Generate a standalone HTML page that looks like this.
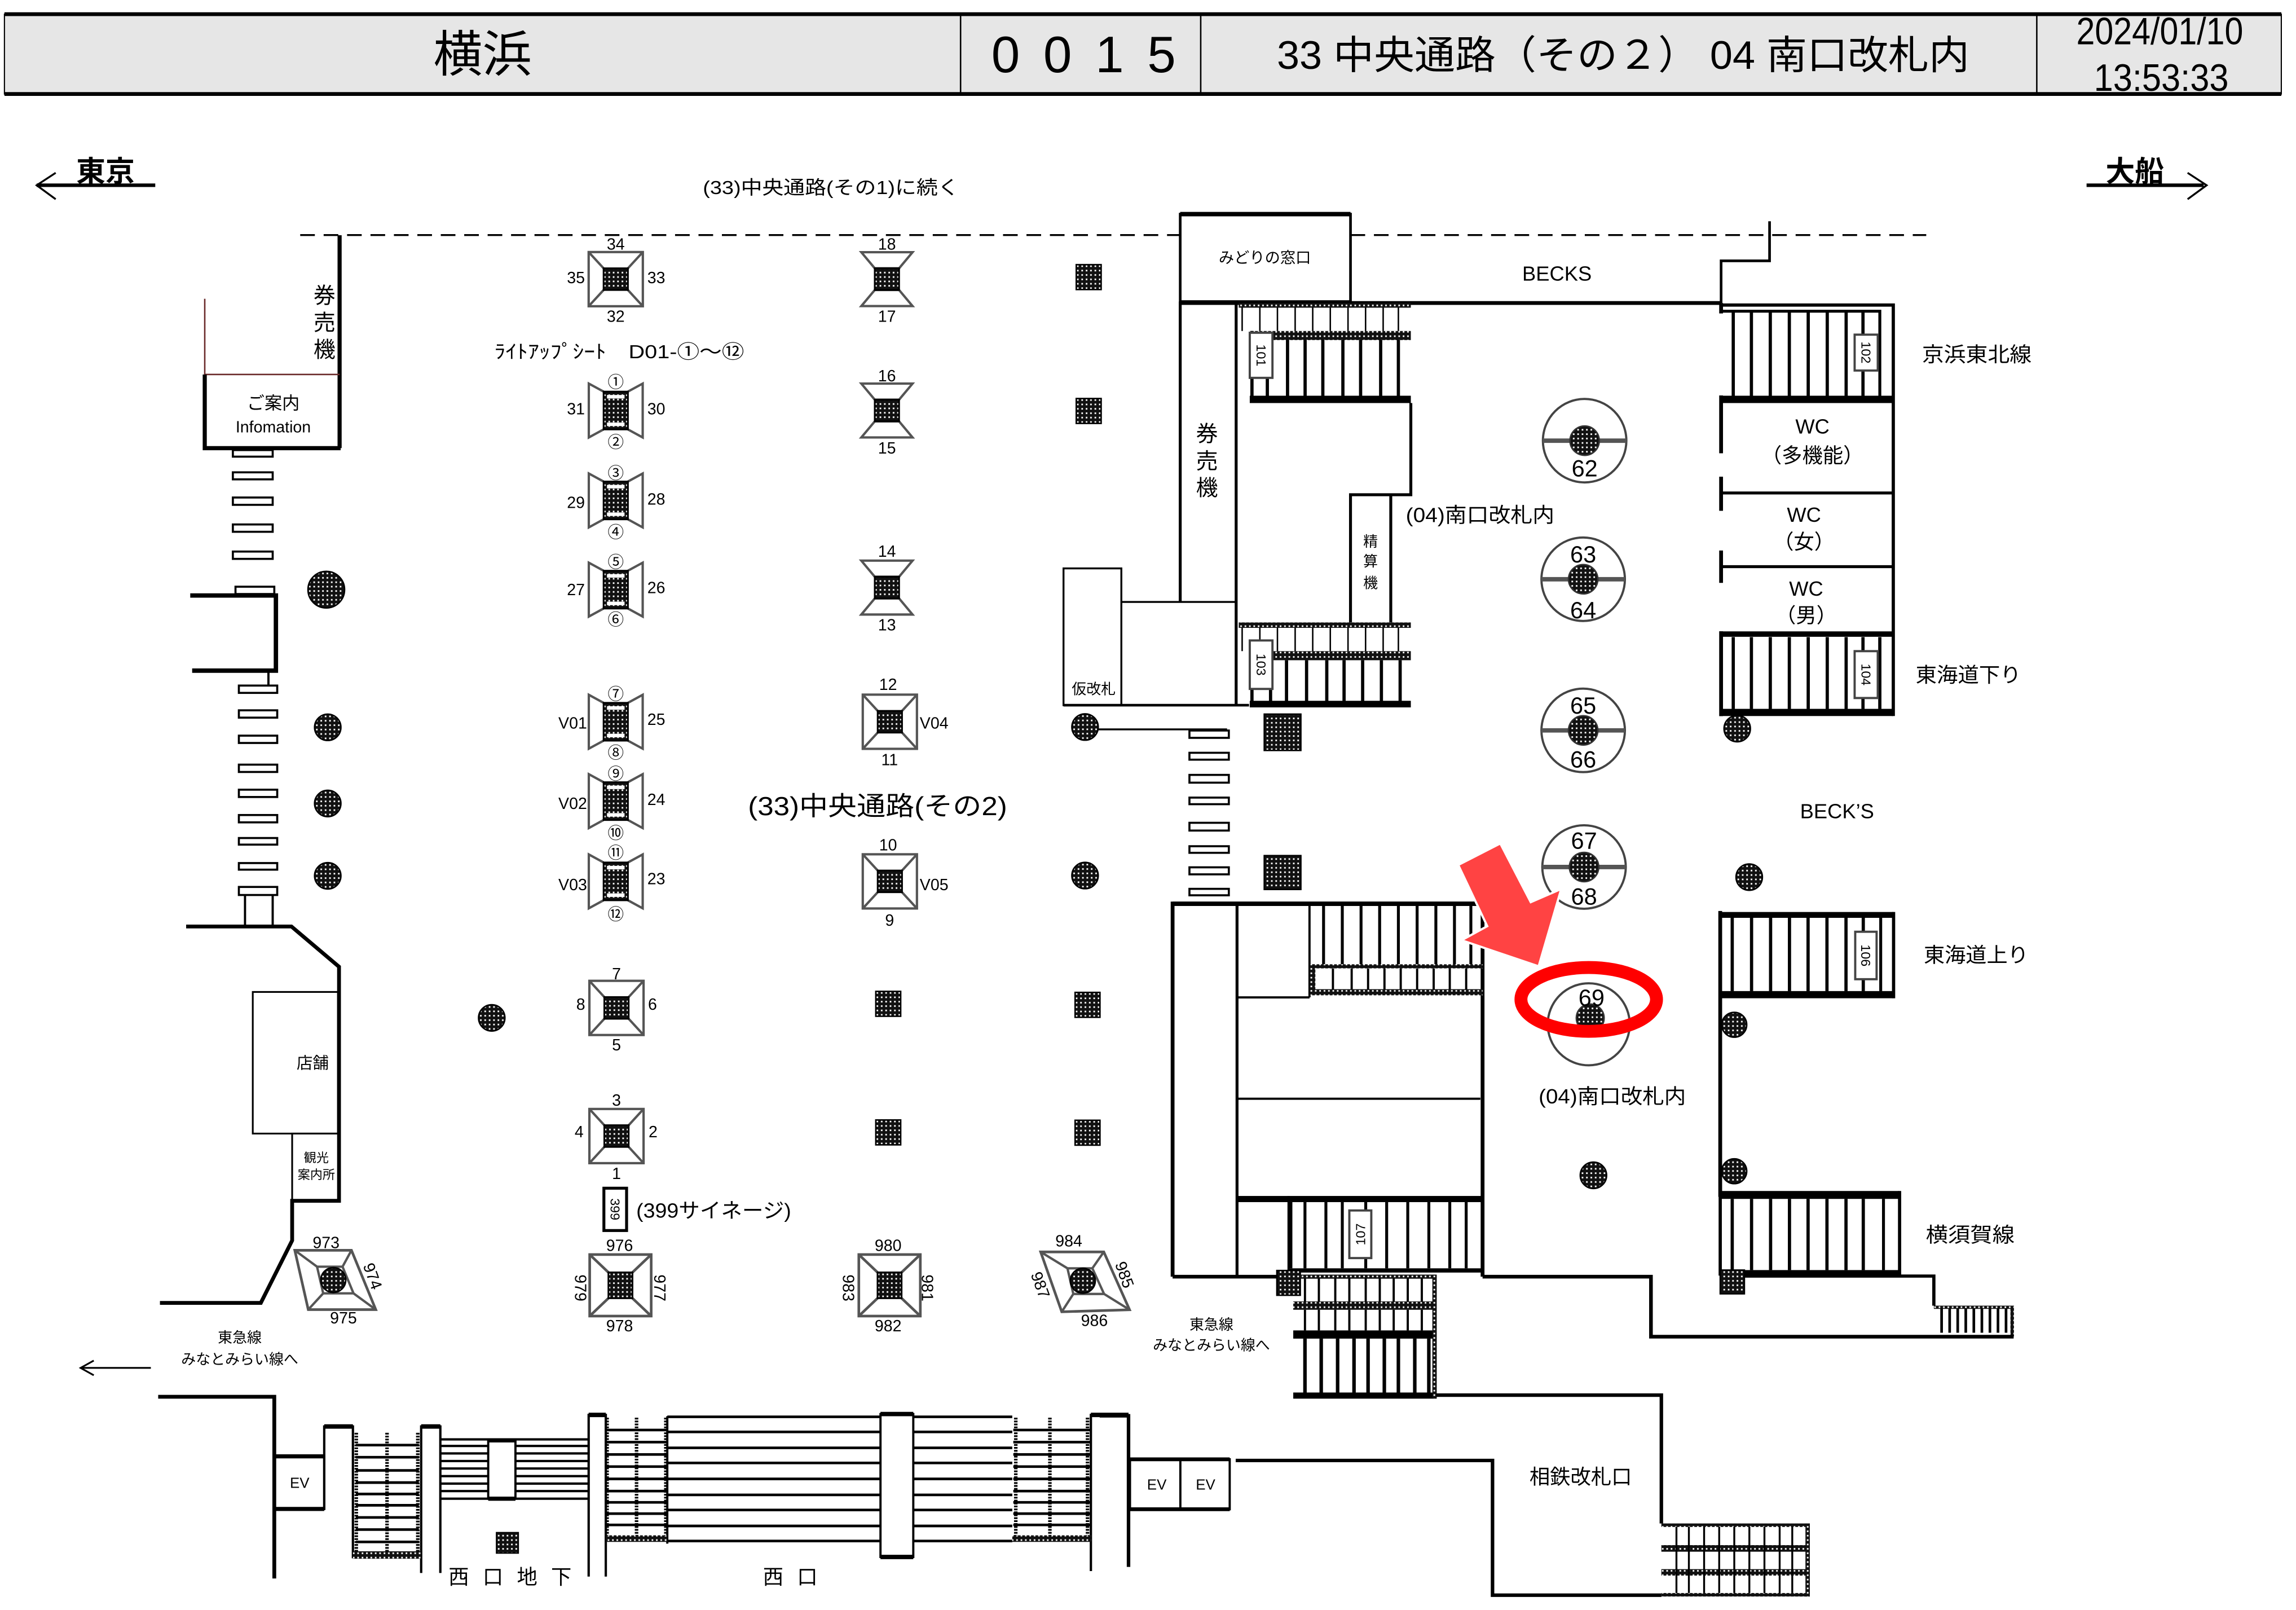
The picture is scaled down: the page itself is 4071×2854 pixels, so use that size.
<!DOCTYPE html>
<html><head><meta charset="utf-8"><title>横浜 0015</title>
<style>
html,body{margin:0;padding:0;background:#fff;width:4071px;height:2854px;overflow:hidden}
svg{display:block}
text{font-family:"Liberation Sans","Noto Sans CJK JP",sans-serif;fill:#000}
.s{font-size:11px;text-anchor:middle}
.t{font-size:9px;text-anchor:middle}
.m{font-size:14px;text-anchor:middle}
.r{font-size:16px;text-anchor:middle}
</style></head><body>
<svg xmlns="http://www.w3.org/2000/svg" width="4071" height="2854" viewBox="0 0 1568 1099.3">
<defs>
<pattern id="h" width="3" height="3" patternUnits="userSpaceOnUse"><rect width="3" height="3" fill="#111"/><rect x="1" y="1" width="1.1" height="1.1" fill="#fff"/></pattern>
<g id="kS">
<rect x="-18.5" y="-18.5" width="37" height="37" fill="#fff" stroke="#555" stroke-width="1.6"/>
<path d="M-18.5-18.5L-8.3-7.4M18.5-18.5L8.3-7.4M-18.5 18.5L-8.3 7.4M18.5 18.5L8.3 7.4" stroke="#555" stroke-width="1.6"/>
<rect x="-8.3" y="-7.4" width="16.6" height="14.8" fill="url(#h)" stroke="#000" stroke-width="1.2"/>
</g>
<g id="kL">
<rect x="-21" y="-21" width="42" height="42" fill="#fff" stroke="#555" stroke-width="1.8"/>
<path d="M-21-21L-8.2-8.8M21-21L8.2-8.8M-21 21L-8.2 8.8M21 21L8.2 8.8" stroke="#555" stroke-width="1.8"/>
<rect x="-8.2" y="-8.8" width="16.4" height="17.6" fill="url(#h)" stroke="#000" stroke-width="1.2"/>
</g>
<g id="kB">
<path d="M-8.3-12.9L-18.4-18.4V18.4L-8.3 12.9M8.3-12.9L18.4-18.4V18.4L8.3 12.9" fill="#fff" stroke="#555" stroke-width="1.6"/>
<rect x="-8.3" y="-12.9" width="16.6" height="25.8" fill="url(#h)" stroke="#000" stroke-width="1.2"/>
<rect x="-6" y="-10.6" width="12" height="2.4" fill="#fff"/>
<rect x="-6" y="8.2" width="12" height="2.4" fill="#fff"/>
</g>
<g id="kH">
<path d="M-17.5-18.4H17.5L8.3-7.4H-8.3ZM-17.5 18.4H17.5L8.3 7.4H-8.3Z" fill="#fff" stroke="#555" stroke-width="1.6"/>
<rect x="-8.3" y="-7.4" width="16.6" height="14.8" fill="url(#h)" stroke="#000" stroke-width="1.2"/>
</g>
<g id="pS"><rect x="-8.5" y="-8.5" width="17" height="17" fill="url(#h)" stroke="#000" stroke-width="1"/></g>
<g id="cC"><circle r="9" fill="url(#h)" stroke="#000" stroke-width="1"/></g>
<g id="rg">
<circle r="28.5" fill="#fff" stroke="#444" stroke-width="1.5"/>
<path d="M-28.5 0H28.5" stroke="#555" stroke-width="3"/>
<circle r="10" fill="url(#h)" stroke="#333" stroke-width="1"/>
</g>
</defs>

<!-- HEADER -->
<rect x="3" y="9.7" width="1555" height="54.5" fill="#e6e6e6" stroke="#000" stroke-width="0.8"/>
<path d="M3 9.7H1558M3 64.2H1558" stroke="#000" stroke-width="2.6"/>
<path d="M656 10V64M820 10V64M1391 10V64" stroke="#000" stroke-width="1"/>
<text x="296" y="49" font-size="34" textLength="67" lengthAdjust="spacingAndGlyphs">横浜</text>
<text x="677" y="49.4" font-size="35" textLength="126" lengthAdjust="spacing">0 0 1 5</text>
<text x="872" y="47" font-size="27" textLength="473" lengthAdjust="spacingAndGlyphs">33 中央通路（その２） 04 南口改札内</text>
<text x="1418" y="30.2" font-size="26" textLength="114" lengthAdjust="spacingAndGlyphs">2024/01/10</text>
<text x="1430" y="62" font-size="26" textLength="92" lengthAdjust="spacingAndGlyphs">13:53:33</text>

<!-- direction -->
<text x="52" y="124" font-size="20" font-weight="bold" textLength="40" lengthAdjust="spacingAndGlyphs">東京</text>
<path d="M25 126.5H106" stroke="#000" stroke-width="2.4"/>
<path d="M38 118L25 126.5L38 136" stroke="#000" stroke-width="1.3" fill="none"/>
<text x="1438" y="124" font-size="20" font-weight="bold" textLength="40" lengthAdjust="spacingAndGlyphs">大船</text>
<path d="M1425 126.5H1505" stroke="#000" stroke-width="2.4"/>
<path d="M1494 118L1507 126.5L1494 136" stroke="#000" stroke-width="1.3" fill="none"/>
<text x="480" y="132.5" font-size="13" textLength="175" lengthAdjust="spacingAndGlyphs">(33)中央通路(その1)に続く</text>

<path d="M205 160.5H806M922.3 160.5H1315.5" stroke="#000" stroke-width="1.3" stroke-dasharray="10 6"/>

<!-- LEFT STRUCTURE -->
<g stroke="#000" fill="none">
<path d="M231.9 160.6V306" stroke-width="2.8"/>
<path d="M139.8 204V255.7H231.9" stroke="#6b2b2b" stroke-width="1"/>
<path d="M139.8 255.7V306H232.6" stroke-width="2.8"/>
<path d="M129.9 406.6H188.4V457.9H131.2" stroke-width="3"/>
<path d="M183.3 457.9V468" stroke-width="1.5"/>
<path d="M167.3 611V632.6M186.2 611V632.6" stroke-width="1.5"/>
<path d="M127.1 632.6H199L231.5 660.1V819.9H199.5V847L178.1 889.6H109.2" stroke-width="2.6"/>
<rect x="172.6" y="677.3" width="58.2" height="96.7" stroke-width="1.2"/>
<rect x="199.5" y="774" width="32.4" height="45.9" stroke-width="1.2"/>
</g>
<g fill="#fff" stroke="#000" stroke-width="1.4">
<rect x="159" y="307.3" width="27.2" height="4.5"/>
<rect x="159" y="322.5" width="27.2" height="4.8"/>
<rect x="159" y="339.7" width="27.2" height="5"/>
<rect x="159" y="358.1" width="27.2" height="5"/>
<rect x="159" y="376.6" width="27.2" height="5"/>
<rect x="160.8" y="400.6" width="26.5" height="5"/>
<rect x="163.1" y="468.1" width="26.2" height="5"/>
<rect x="163.1" y="485" width="26.2" height="5"/>
<rect x="163.1" y="502.3" width="26.2" height="5"/>
<rect x="163.1" y="522.1" width="26.2" height="5"/>
<rect x="163.1" y="539.2" width="26.2" height="5"/>
<rect x="163.1" y="556.5" width="26.2" height="5"/>
<rect x="163.1" y="572.2" width="26.2" height="4.5"/>
<rect x="163.1" y="589.3" width="26.2" height="4.5"/>
<rect x="163.1" y="605.6" width="26.2" height="5.5"/>
</g>
<text x="221.6" y="207" font-size="15" text-anchor="middle">券</text>
<text x="221.6" y="225.5" font-size="15" text-anchor="middle">売</text>
<text x="221.6" y="244" font-size="15" text-anchor="middle">機</text>
<text x="186.6" y="279.5" font-size="12" text-anchor="middle">ご案内</text>
<text x="186.6" y="295.3" font-size="11" text-anchor="middle">Infomation</text>
<text x="213.5" y="729.5" font-size="11" text-anchor="middle">店舗</text>
<text x="216" y="793.5" font-size="8.5" text-anchor="middle">観光</text>
<text x="216" y="805" font-size="8.5" text-anchor="middle">案内所</text>
<circle cx="222.8" cy="402.6" r="12.5" fill="url(#h)" stroke="#000" stroke-width="1"/>
<use href="#cC" x="223.8" y="496.6"/>
<use href="#cC" x="223.8" y="548.6"/>
<use href="#cC" x="223.8" y="598"/>
<use href="#cC" x="335.8" y="695"/>

<!-- kiosk 973 -->
<path d="M201.3 853.7H240L256.6 894.2H210.5Z" fill="#fff" stroke="#555" stroke-width="1.8"/>
<path d="M201.3 853.7L216.5 864.9M240 853.7L233.9 864.9M256.6 894.2L241.4 883.1M210.5 894.2L220.7 883.1M216.5 864.9H233.9L241.4 883.1H220.7Z" fill="none" stroke="#555" stroke-width="1.6"/>
<circle cx="227.6" cy="874" r="8.5" fill="url(#h)" stroke="#000" stroke-width="1"/>
<text class="s" x="222.7" y="852.3">973</text>
<text class="s" x="234.5" y="903.6">975</text>
<text class="s" transform="translate(254.7 871.3) rotate(70)" y="4">974</text>
<text x="163.7" y="916.7" font-size="10" text-anchor="middle">東急線</text>
<text x="163.7" y="931.6" font-size="10" text-anchor="middle">みなとみらい線へ</text>
<path d="M55 934H103M64 929L55 934L64 939" stroke="#000" stroke-width="1.2" fill="none"/>

<!-- COLUMN A -->
<use href="#kS" x="420.5" y="190.6"/>
<text class="s" x="420.5" y="170.5">34</text><text class="s" x="420.5" y="219.7">32</text>
<text class="s" x="393.3" y="193.4">35</text><text class="s" x="448.2" y="193.4">33</text>
<text x="337.6" y="244.5" font-size="13" textLength="170.6" lengthAdjust="spacingAndGlyphs">ﾗｲﾄｱｯﾌﾟｼｰﾄ　D01-①～⑫</text>

<use href="#kB" x="420.5" y="280.3"/>
<text class="s" x="420.5" y="264.6">①</text><text class="s" x="420.5" y="305.6">②</text>
<text class="s" x="393.3" y="283">31</text><text class="s" x="448.2" y="283">30</text>
<use href="#kB" x="420.5" y="341.7"/>
<text class="s" x="420.5" y="326.8">③</text><text class="s" x="420.5" y="367.1">④</text>
<text class="s" x="393.3" y="346.9">29</text><text class="s" x="448.2" y="344.5">28</text>
<use href="#kB" x="420.5" y="402.6"/>
<text class="s" x="420.5" y="387.4">⑤</text><text class="s" x="420.5" y="426.7">⑥</text>
<text class="s" x="393.3" y="406.4">27</text><text class="s" x="448.2" y="405.1">26</text>
<use href="#kB" x="420.5" y="492.8"/>
<text class="s" x="420.5" y="477.6">⑦</text><text class="s" x="420.5" y="517.6">⑧</text>
<text class="s" x="391.1" y="497.5">V01</text><text class="s" x="448.2" y="495">25</text>
<use href="#kB" x="420.5" y="547"/>
<text class="s" x="420.5" y="532.1">⑨</text><text class="s" x="420.5" y="572.6">⑩</text>
<text class="s" x="391.1" y="552.4">V02</text><text class="s" x="448.2" y="549.7">24</text>
<use href="#kB" x="420.5" y="601.8"/>
<text class="s" x="420.5" y="586.1">⑪</text><text class="s" x="420.5" y="628">⑫</text>
<text class="s" x="391.1" y="607.8">V03</text><text class="s" x="448.2" y="603.7">23</text>
<use href="#kS" x="421" y="688.2"/>
<text class="s" x="421" y="668.6">7</text><text class="s" x="421" y="717.2">5</text>
<text class="s" x="396.6" y="689.4">8</text><text class="s" x="445.6" y="689.4">6</text>
<use href="#kS" x="421" y="775.7"/>
<text class="s" x="421" y="755">3</text><text class="s" x="421" y="805">1</text>
<text class="s" x="395.5" y="776.6">4</text><text class="s" x="446" y="776.6">2</text>
<rect x="412.4" y="811.3" width="15.5" height="28.9" fill="#fff" stroke="#000" stroke-width="2"/>
<text class="t" transform="translate(420.2 825.7) rotate(90)" y="3.2">399</text>
<text x="434.5" y="831.5" font-size="14" textLength="105.8" lengthAdjust="spacingAndGlyphs">(399サイネージ)</text>
<use href="#kL" x="423.7" y="877.6"/>
<text class="s" x="423.1" y="854.2">976</text><text class="s" x="423.1" y="909">978</text>
<text class="s" transform="translate(396.6 879.4) rotate(90)" y="4">979</text>
<text class="s" transform="translate(450.7 879.4) rotate(90)" y="4">977</text>

<!-- COLUMN B -->
<use href="#kH" x="605.7" y="190.6"/>
<text class="s" x="605.7" y="170.5">18</text><text class="s" x="605.7" y="219.7">17</text>
<use href="#kH" x="605.7" y="280.3"/>
<text class="s" x="605.7" y="260.4">16</text><text class="s" x="605.7" y="309.6">15</text>
<use href="#kH" x="605.7" y="401.2"/>
<text class="s" x="605.7" y="380.1">14</text><text class="s" x="605.7" y="430.4">13</text>
<use href="#kS" x="607.7" y="492.8"/>
<text class="s" x="606.5" y="471">12</text><text class="s" x="607.5" y="522.5">11</text>
<text class="s" x="637.9" y="497.5">V04</text>
<text x="510.8" y="556.5" font-size="18" textLength="177" lengthAdjust="spacingAndGlyphs">(33)中央通路(その2)</text>
<use href="#kS" x="607.7" y="601.8"/>
<text class="s" x="606.5" y="580.7">10</text><text class="s" x="607.5" y="632.1">9</text>
<text class="s" x="637.9" y="607.8">V05</text>
<use href="#pS" x="606.6" y="685.4"/>
<use href="#pS" x="606.6" y="773.2"/>
<use href="#kL" x="607.5" y="877.6"/>
<text class="s" x="606.5" y="854.2">980</text><text class="s" x="606.5" y="909">982</text>
<text class="s" transform="translate(579.7 879.4) rotate(90)" y="4">983</text>
<text class="s" transform="translate(633.5 879.4) rotate(90)" y="4">981</text>

<!-- COLUMN C -->
<use href="#pS" x="743.5" y="189.2"/>
<use href="#pS" x="743.5" y="280.6"/>
<path d="M741 498H838" stroke="#000" stroke-width="1.3"/>
<use href="#cC" x="741" y="496.4"/>
<use href="#cC" x="741" y="597.8"/>
<use href="#pS" x="742.7" y="686.1"/>
<use href="#pS" x="742.7" y="773.4"/>
<g fill="#fff" stroke="#000" stroke-width="1.4">
<rect x="812.3" y="498.8" width="26.9" height="5"/>
<rect x="812.3" y="514" width="26.9" height="4.7"/>
<rect x="812.3" y="529.1" width="26.9" height="5.3"/>
<rect x="812.3" y="544.6" width="26.9" height="4.5"/>
<rect x="812.3" y="561.8" width="26.9" height="5.3"/>
<rect x="812.3" y="577.8" width="26.9" height="4.5"/>
<rect x="812.3" y="592.2" width="26.9" height="4.8"/>
<rect x="812.3" y="606.9" width="26.9" height="4.4"/>
</g>
<rect x="863.4" y="487.6" width="25" height="24.8" fill="url(#h)" stroke="#000" stroke-width="1"/>
<rect x="863.4" y="584.2" width="25" height="23.1" fill="url(#h)" stroke="#000" stroke-width="1"/>

<!-- kiosk 984 -->
<path d="M710.7 854.8H753.8L771.4 894.3L725.1 895.7Z" fill="#fff" stroke="#555" stroke-width="1.8"/>
<path d="M710.7 854.8L729 866M753.8 854.8L746 866M771.4 894.3L754 883.5M725.1 895.7L733 883.5M729 866H746L754 883.5H733Z" fill="none" stroke="#555" stroke-width="1.6"/>
<circle cx="739.5" cy="874.5" r="8.5" fill="url(#h)" stroke="#000" stroke-width="1"/>
<text class="s" x="729.9" y="851.1">984</text>
<text class="s" x="747.4" y="905.4">986</text>
<text class="s" transform="translate(768.2 870.3) rotate(70)" y="4">985</text>
<text class="s" transform="translate(710.7 877.3) rotate(70)" y="4">987</text>

<!-- CENTER-RIGHT STRUCTURE -->
<g stroke="#000" fill="none">
<rect x="806" y="146.2" width="116.3" height="59.7" stroke-width="1.8"/>
<path d="M806 146.2H922.3" stroke-width="3"/>
<path d="M806 205.9V411M844.2 205.9V482" stroke-width="2"/>
<rect x="726.3" y="388.1" width="39.5" height="93.4" stroke-width="1.3"/>
<path d="M765.8 411H844.2" stroke-width="1.3"/>
<path d="M726.3 481.5H853" stroke-width="1.8"/>
<path d="M806 206.9H1175.4" stroke-width="2.6"/>
<path d="M963.5 275.2V337.8H922.3V425M949.8 337.8V425" stroke-width="2"/>
<path d="M1175.4 206.9V178.1H1208.5V151.1" stroke-width="1.8"/>
</g>
<text x="863.8" y="179.5" font-size="10.5" text-anchor="middle">みどりの窓口</text>
<text x="1063.3" y="191.7" font-size="14" text-anchor="middle">BECKS</text>
<text x="824.3" y="301.5" font-size="15" text-anchor="middle">券</text>
<text x="824.3" y="320" font-size="15" text-anchor="middle">売</text>
<text x="824.3" y="338.4" font-size="15" text-anchor="middle">機</text>
<text x="936" y="373.3" font-size="10" text-anchor="middle">精</text>
<text x="936" y="386.8" font-size="10" text-anchor="middle">算</text>
<text x="936" y="401.6" font-size="10" text-anchor="middle">機</text>
<text x="746.9" y="474" font-size="10" text-anchor="middle">仮改札</text>

<!-- stairs 101 -->
<rect x="846" y="206.9" width="117.5" height="3.2" fill="url(#h)"/>
<path d="M848.3 210V226M860.4 210V226M872.4 210V226M884.5 210V226M896.5 210V226M908.5 210V226M920.6 210V226M932.6 210V226M944.6 210V226M955 210V226" stroke="#000" stroke-width="1"/>
<rect x="853.5" y="226" width="110" height="6.2" fill="url(#h)"/>
<path d="M865.5 232V270.2M879.3 232V270.2M891.3 232V270.2M903.4 232V270.2M917.1 232V270.2M929.2 232V270.2M942.9 232V270.2M955 232V270.2M855 226V275" stroke="#000" stroke-width="2.2"/>
<rect x="853.5" y="270.2" width="110" height="5" fill="#000"/>
<rect x="853.5" y="227.2" width="15.5" height="30.8" fill="#fff" stroke="#444" stroke-width="1.5"/>
<text class="t" transform="translate(861.3 242.6) rotate(90)" y="3.2">101</text>
<!-- stairs 103 -->
<rect x="846" y="425" width="117.5" height="3.7" fill="url(#h)"/>
<path d="M848.3 428.7V444.6M860.4 428.7V444.6M872.4 428.7V444.6M884.5 428.7V444.6M896.5 428.7V444.6M908.5 428.7V444.6M920.6 428.7V444.6M932.6 428.7V444.6M944.6 428.7V444.6M955 428.7V444.6" stroke="#000" stroke-width="1"/>
<rect x="853.5" y="444.6" width="110" height="6.2" fill="url(#h)"/>
<path d="M867.7 450.8V479M878.6 450.8V479M892.3 450.8V479M906.1 450.8V479M917.9 450.8V479M930.6 450.8V479M943.4 450.8V479M956.2 450.8V479M855 444.6V482" stroke="#000" stroke-width="2.2"/>
<rect x="853.5" y="478.5" width="110" height="4.5" fill="#000"/>
<rect x="853.5" y="437.3" width="15.5" height="33.1" fill="#fff" stroke="#444" stroke-width="1.5"/>
<text class="t" transform="translate(861.3 453.8) rotate(90)" y="3.2">103</text>

<text x="960.1" y="356.5" font-size="14" textLength="101.5" lengthAdjust="spacingAndGlyphs">(04)南口改札内</text>

<!-- ring columns -->
<use href="#rg" x="1082.2" y="300.9"/>
<text class="r" x="1082.2" y="325.2">62</text>
<use href="#rg" x="1081.2" y="395.5"/>
<text class="r" x="1081.2" y="384.1">63</text><text class="r" x="1081.2" y="422.2">64</text>
<use href="#rg" x="1081.2" y="498.7"/>
<text class="r" x="1081.2" y="487.3">65</text><text class="r" x="1081.2" y="524.1">66</text>
<use href="#rg" x="1081.8" y="592"/>
<text class="r" x="1081.8" y="579.5">67</text><text class="r" x="1081.8" y="617.6">68</text>
<circle cx="1085" cy="699.4" r="28" fill="#fff" stroke="#444" stroke-width="1.5"/>
<circle cx="1086" cy="695.1" r="9.5" fill="url(#h)" stroke="#333" stroke-width="1"/>
<text class="r" x="1086.9" y="686.8">69</text>

<use href="#cC" x="1186.4" y="497.5"/>

<!-- RIGHT: stairs 102 / WC / 104 -->
<g stroke="#000" fill="none">
<path d="M1175.4 208.3H1293V488.9" stroke-width="2.2"/>
<path d="M1175.4 212.5H1283.8V270.2" stroke-width="2"/>
<path d="M1175.4 206.9V214M1175.4 270V309.5M1175.4 325.5V348.8M1175.4 375.9V398M1175.4 431V489" stroke-width="2.6"/>
<path d="M1175.4 336.6H1293M1175.4 386.9H1293" stroke-width="2"/>
<path d="M1183.7 212.5V270.2M1196.1 212.5V270.2M1209 212.5V270.2M1222 212.5V270.2M1234.9 212.5V270.2M1247.9 212.5V270.2M1260.8 212.5V270.2M1272.3 212.5V270.2" stroke-width="2.2"/>
<path d="M1183.7 435V484M1196.1 435V484M1209 435V484M1222 435V484M1234.9 435V484M1247.9 435V484M1260.8 435V484M1272.3 435V484M1283.8 435V484" stroke-width="2.2"/>
</g>
<rect x="1175.4" y="270.2" width="117.6" height="5" fill="#000"/>
<rect x="1175.4" y="431.1" width="117.6" height="3.7" fill="#000"/>
<rect x="1175.4" y="484" width="117.6" height="4.9" fill="#000"/>
<rect x="1266.6" y="228.5" width="15.8" height="24.5" fill="#fff" stroke="#444" stroke-width="1.5"/>
<text class="t" transform="translate(1274.5 240.7) rotate(90)" y="3.2">102</text>
<rect x="1266.6" y="444.6" width="15.8" height="32" fill="#fff" stroke="#444" stroke-width="1.5"/>
<text class="t" transform="translate(1274.5 460.6) rotate(90)" y="3.2">104</text>
<text class="m" x="1237.8" y="296.1">WC</text>
<text class="m" x="1237.8" y="315.8">（多機能）</text>
<text class="m" x="1232" y="356.3">WC</text>
<text class="m" x="1232" y="374.7">（女）</text>
<text class="m" x="1233.5" y="406.7">WC</text>
<text class="m" x="1233.5" y="425.1">（男）</text>
<text x="1312.6" y="247" font-size="14" textLength="74.8" lengthAdjust="spacingAndGlyphs">京浜東北線</text>
<text x="1308.3" y="465.6" font-size="14" textLength="72" lengthAdjust="spacingAndGlyphs">東海道下り</text>
<text x="1254.6" y="558.8" font-size="14" text-anchor="middle">BECK’S</text>
<use href="#cC" x="1194.6" y="598.9"/>

<!-- stairs 106 -->
<g stroke="#000" fill="none">
<path d="M1293.2 622.7V681.6" stroke-width="2.2"/>
<path d="M1284.4 626.7V676.7" stroke-width="2"/>
<path d="M1183 626.7V676.7M1196.2 626.7V676.7M1209.2 626.7V676.7M1222.1 626.7V676.7M1234.8 626.7V676.7M1247.7 626.7V676.7M1260.7 626.7V676.7M1272.5 626.7V676.7" stroke-width="2.2"/>
<path d="M1174.8 622V817.2" stroke-width="2.6"/>
<path d="M1297.3 813.2V871.3M1174.8 813V871" stroke-width="2.2"/>
<path d="M1286.3 818.6V867.2" stroke-width="2"/>
<path d="M1183 818.6V867.2M1196.2 818.6V867.2M1209.2 818.6V867.2M1222.1 818.6V867.2M1234.8 818.6V867.2M1247.7 818.6V867.2M1260.7 818.6V867.2M1272.5 818.6V867.2" stroke-width="2.2"/>
<path d="M1174.8 871.3H1320.7V891.5" stroke-width="2.2"/>
</g>
<rect x="1174.8" y="622.7" width="118.4" height="4" fill="#000"/>
<rect x="1174.8" y="676.7" width="118.4" height="4.9" fill="#000"/>
<rect x="1267" y="636.2" width="14.6" height="32.4" fill="#fff" stroke="#444" stroke-width="1.5"/>
<text class="t" transform="translate(1274.3 652.4) rotate(90)" y="3.2">106</text>
<text x="1313.8" y="656.9" font-size="14" textLength="71.6" lengthAdjust="spacingAndGlyphs">東海道上り</text>
<circle cx="1184.4" cy="699.7" r="8.5" fill="url(#h)" stroke="#000" stroke-width="1"/>
<circle cx="1184.4" cy="799.7" r="8.5" fill="url(#h)" stroke="#000" stroke-width="1"/>
<rect x="1174.8" y="813.2" width="122.5" height="5.4" fill="#000"/>
<rect x="1174.8" y="867.2" width="122.5" height="4.1" fill="#000"/>
<text x="1315.2" y="848" font-size="14" textLength="60.6" lengthAdjust="spacingAndGlyphs">横須賀線</text>
<rect x="1174.8" y="867.2" width="16.5" height="16.2" fill="url(#h)" stroke="#000" stroke-width="1"/>
<!-- small stairs bottom right -->
<rect x="1320.7" y="891.5" width="54.5" height="2.2" fill="url(#h)"/>
<path d="M1326 893.5V910M1331.5 893.5V910M1337 893.5V910M1342.5 893.5V910M1348 893.5V910M1353.5 893.5V910M1359 893.5V910M1364.5 893.5V910M1370 893.5V910" stroke="#000" stroke-width="1.8"/>
<rect x="1373" y="891.5" width="2.4" height="21" fill="url(#h)"/>

<!-- BIG BOX lower center -->
<g stroke="#000" fill="none">
<path d="M800.8 871.7V616.9H1012.5V871.7" stroke-width="2.6"/>
<path d="M844.8 616.9V871.7" stroke-width="2"/>
<path d="M844.8 681H894.3M844.8 750.2H1011M894.3 616.9V681" stroke-width="1.5"/>
<path d="M903.9 616.9V658.4M916.7 616.9V658.4M929.5 616.9V658.4M942.2 616.9V658.4M955 616.9V658.4M967.8 616.9V658.4M980.6 616.9V658.4M993.3 616.9V658.4M1004.5 616.9V658.4" stroke-width="2"/>
<path d="M910.3 661.2V675.4M923.1 661.2V675.4M934.3 661.2V675.4M945.5 661.2V675.4M956.6 661.2V675.4M967.8 661.2V675.4M979.1 661.2V675.4M990.1 661.2V675.4M1001.3 661.2V675.4" stroke-width="1.5"/>
<path d="M800.8 871.7H880M1012.5 871.7H1127.5V912.7H1375.2" stroke-width="2.5"/>
<path d="M881.6 820.8V866M891.2 820.8V866M905.5 820.8V866M916.7 820.8V866M932.7 820.8V866M947 820.8V866M961.4 820.8V866M975.8 820.8V866M990.1 820.8V866M1001.3 820.8V866" stroke-width="2"/>
<path d="M880 816.6V871" stroke-width="1.5"/>
</g>
<rect x="800.8" y="615.6" width="211.7" height="3" fill="#000"/>
<rect x="894.3" y="658.4" width="118.2" height="2.8" fill="url(#h)"/>
<rect x="894.3" y="675.4" width="118.2" height="4.2" fill="url(#h)"/>
<rect x="894.3" y="658.4" width="4" height="21" fill="url(#h)"/>
<rect x="844.8" y="816.6" width="167.7" height="4.2" fill="#000"/>
<rect x="880" y="866" width="132.5" height="2.9" fill="#000"/>
<rect x="921.5" y="826.5" width="15" height="32.5" fill="#fff" stroke="#444" stroke-width="1.5"/>
<text class="t" transform="translate(929 842.8) rotate(-90)" y="3.2">107</text>
<rect x="872" y="867.5" width="16" height="16.9" fill="url(#h)" stroke="#000" stroke-width="1"/>

<!-- 東急線 stairs -->
<rect x="883.2" y="870.3" width="97.4" height="2.8" fill="url(#h)"/>
<path d="M891.2 873V888.6M900.7 873V888.6M911.9 873V888.6M921.5 873V888.6M932.7 873V888.6M942.3 873V888.6M951.8 873V888.6M961.4 873V888.6M971 873V888.6M891.2 894.3V908.4M900.7 894.3V908.4M911.9 894.3V908.4M921.5 894.3V908.4M932.7 894.3V908.4M942.3 894.3V908.4M951.8 894.3V908.4M961.4 894.3V908.4M971 894.3V908.4" stroke="#000" stroke-width="1.5"/>
<rect x="883.2" y="888.6" width="97.4" height="5.7" fill="url(#h)"/>
<rect x="883.2" y="908.4" width="97.4" height="5.6" fill="#000"/>
<path d="M891.2 914V950.8M902.3 914V950.8M913.5 914V950.8M924.7 914V950.8M934.3 914V950.8M945.4 914V950.8M955 914V950.8M966.2 914V950.8M975.8 914V950.8" stroke="#000" stroke-width="2.4"/>
<rect x="883.2" y="950.8" width="97.4" height="4.2" fill="#000"/>
<rect x="978.2" y="870.3" width="3" height="84.7" fill="url(#h)"/>
<text x="827.3" y="907.8" font-size="10" text-anchor="middle">東急線</text>
<text x="827.3" y="921.9" font-size="10" text-anchor="middle">みなとみらい線へ</text>

<text x="1050.8" y="753.5" font-size="14" textLength="100.6" lengthAdjust="spacingAndGlyphs">(04)南口改札内</text>
<use href="#cC" x="1088.2" y="802.5"/>

<!-- bottom right walls -->
<g stroke="#000" fill="none" stroke-width="2.4">
<path d="M980.6 952.6H1134.6V1040.2"/>
<path d="M843.9 997.2H1019.3V1089.2H1134.6"/>
<path d="M751 966.7H770.7V1069.9"/>
</g>
<!-- Sotetsu stairs -->
<rect x="1134.6" y="1040.2" width="101.4" height="2.4" fill="url(#h)"/>
<rect x="1134.6" y="1055" width="101.4" height="4.5" fill="url(#h)"/>
<rect x="1134.6" y="1071.4" width="101.4" height="4.4" fill="url(#h)"/>
<rect x="1134.6" y="1087.7" width="101.4" height="2.4" fill="url(#h)"/>
<rect x="1233" y="1040.2" width="3" height="49.9" fill="url(#h)"/>
<path d="M1144.9 1042.4V1087.7M1153.4 1042.4V1087.7M1163.8 1042.4V1087.7M1174.1 1042.4V1087.7M1184.4 1042.4V1087.7M1194.7 1042.4V1087.7M1205 1042.4V1087.7M1215.4 1042.4V1087.7M1224 1042.4V1087.7" stroke="#000" stroke-width="1.3"/>
<!-- EV EV -->
<rect x="771.7" y="996.4" width="68.1" height="34.1" fill="#fff" stroke="#000" stroke-width="1.5"/>
<path d="M771.7 996.4H839.8M771.7 1030.5H839.8" stroke="#000" stroke-width="2.6"/>
<path d="M806.1 996.4V1030.5" stroke="#000" stroke-width="1.5"/>
<text x="790" y="1017" font-size="10" text-anchor="middle">EV</text>
<text x="823.3" y="1017" font-size="10" text-anchor="middle">EV</text>
<text x="1079.5" y="1013.3" font-size="14" text-anchor="middle">相鉄改札口</text>

<!-- BOTTOM LEFT -->
<g stroke="#000" fill="none">
<path d="M108 953.7H187.3V1077.8" stroke-width="2.6"/>
<rect x="187.3" y="994.4" width="34.1" height="35.9" stroke-width="1.5"/>
<path d="M187.3 994.4H221.4M187.3 1030.3H221.4" stroke-width="2.8"/>
<path d="M221.4 1031V974H241V1064" stroke-width="1.6"/>
<path d="M221.4 974H241" stroke-width="3"/>
<path d="M287.6 1074V974H300.7V1074" stroke-width="1.6"/>
<path d="M287.6 974H300.7" stroke-width="3"/>
<path d="M300.7 982.8H402M300.7 987.3H402M300.7 992.4H402M300.7 997.6H402M300.7 1002.7H402M300.7 1007.9H402M300.7 1013H402M300.7 1018.1H402M300.7 1023.3H402" stroke-width="1.6"/>
<path d="M402 1076.5V966.1H413.7V1076.5" stroke-width="1.6"/>
<path d="M402 966.1H413.7" stroke-width="3"/>
<path d="M455.7 967.4H601.3M455.7 977.7H601.3M455.7 988.6H601.3M455.7 998.9H601.3M455.7 1009.8H601.3M455.7 1020.7H601.3M455.7 1031H601.3M455.7 1041.9H601.3M455.7 1052.2H601.3M623.7 967.4H691.3M623.7 977.7H691.3M623.7 988.6H691.3M623.7 998.9H691.3M623.7 1009.8H691.3M623.7 1020.7H691.3M623.7 1031H691.3M623.7 1041.9H691.3M623.7 1052.2H691.3" stroke-width="1.8"/>
<path d="M455.7 967V1054" stroke-width="1.5"/>
<path d="M745 1072.7V966.1H770.7" stroke-width="1.6"/>
<path d="M745 966.1H770.7" stroke-width="3"/>
</g>
<rect x="333.4" y="983.5" width="18.6" height="39.8" fill="#fff" stroke="#000" stroke-width="1.5"/>
<path d="M333.4 983.5H352M333.4 1023.3H352" stroke="#000" stroke-width="2.8"/>
<rect x="601.3" y="965.5" width="22.4" height="97.6" fill="#fff" stroke="#000" stroke-width="1.5"/>
<path d="M601.3 965.5H623.7M601.3 1063.1H623.7" stroke="#000" stroke-width="3"/>
<!-- escalator 1 -->
<path d="M243.3 978.3V1060M264.3 978.3V1060M285.3 978.3V1060" stroke="#000" stroke-width="2.4" stroke-dasharray="1.2 0.8"/>
<path d="M243 986.7H286M243 995H286M243 1004H286M243 1012.3H286M243 1020.1H286M243 1027.8H286M243 1036.1H286M243 1044.4H286M243 1052.8H286" stroke="#000" stroke-width="1.8"/>
<rect x="241" y="1059.2" width="46.6" height="5.1" fill="url(#h)"/>
<!-- escalator 2 -->
<path d="M414.6 968V1050M434.7 968V1050M454.7 968V1050" stroke="#000" stroke-width="2.4" stroke-dasharray="1.2 0.8"/>
<path d="M414 976.4H455.7M414 984.7H455.7M414 993.1H455.7M414 1001.4H455.7M414 1009.8H455.7M414 1018.1H455.7M414 1025.8H455.7M414 1033.5H455.7M414 1041.2H455.7" stroke="#000" stroke-width="1.8"/>
<rect x="413.7" y="1048.3" width="42" height="4.5" fill="url(#h)"/>
<!-- escalator 3 -->
<path d="M693.7 968V1050M717 968V1050M742.7 968V1050" stroke="#000" stroke-width="2.4" stroke-dasharray="1.2 0.8"/>
<path d="M692 976.4H745M692 984.7H745M692 993.1H745M692 1001.4H745M692 1009.8H745M692 1018.1H745M692 1025.8H745M692 1033.5H745M692 1041.2H745" stroke="#000" stroke-width="1.8"/>
<rect x="691.3" y="1048.3" width="53.7" height="4.5" fill="url(#h)"/>
<rect x="339" y="1046.4" width="15" height="14.1" fill="url(#h)" stroke="#000" stroke-width="0.8"/>
<text x="204.6" y="1016" font-size="10" text-anchor="middle">EV</text>
<text x="306.3" y="1081.5" font-size="14" textLength="84" lengthAdjust="spacing">西 口 地 下</text>
<text x="521" y="1081.5" font-size="14" textLength="37.3" lengthAdjust="spacing">西 口</text>

<!-- RED MARKERS -->
<polygon points="995.9,590.6 1024.6,575.9 1045.4,616 1066.2,607 1050.8,659.8 998.1,642 1015.7,632.4" fill="#ff4343" stroke="#fff" stroke-width="1.5"/>
<ellipse cx="1085" cy="682.4" rx="46.3" ry="21.8" fill="none" stroke="#ff0000" stroke-width="8.8"/>
</svg>
</body></html>
